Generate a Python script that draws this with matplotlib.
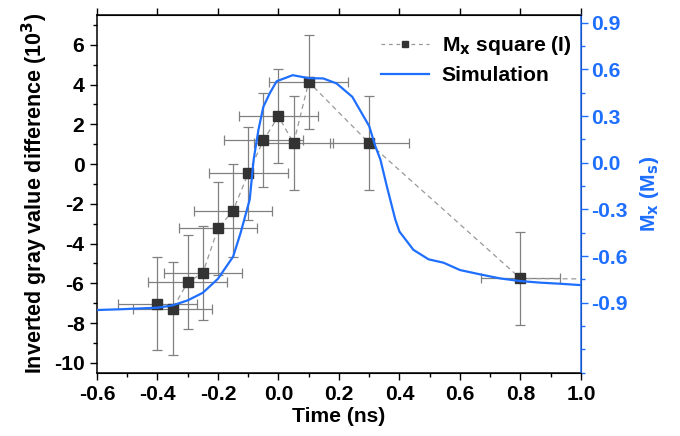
import numpy as np
import matplotlib.pyplot as plt
from matplotlib.ticker import MultipleLocator

plt.rcParams['font.family'] = ['Liberation Sans', 'DejaVu Sans']
plt.rcParams['font.weight'] = 'bold'
plt.rcParams['mathtext.default'] = 'bf'

# measured points (time in ns, gray value difference in 10^3)
t_exp = [-0.4, -0.35, -0.3, -0.25, -0.2, -0.15, -0.1, -0.05, 0.0, 0.05, 0.1, 0.3, 0.8, 1.2]
g_exp = [-7.03, -7.28, -5.95, -5.48, -3.24, -2.34, -0.47, 1.19, 2.41, 1.04, 4.13, 1.05, -5.76, -5.80]
g_err = [2.35, 2.35, 2.37, 2.37, 2.36, 2.34, 2.34, 2.36, 2.36, 2.36, 2.35, 2.36, 2.36, 2.36]
t_err = [0.13] * len(t_exp)

# simulated Mx (units of Ms)
t_sim = [-0.6, -0.52, -0.4, -0.35, -0.3, -0.25, -0.2, -0.15, -0.125, -0.104, -0.095,
         -0.082, -0.066, -0.05, -0.028, -0.006, 0.047, 0.1, 0.148, 0.192, 0.244, 0.3,
         0.32, 0.337, 0.358, 0.386, 0.4, 0.446, 0.496, 0.546, 0.6, 0.667, 0.733, 0.8,
         0.865, 0.931, 1.0]
m_sim = [-0.947, -0.942, -0.932, -0.917, -0.885, -0.836, -0.746, -0.604, -0.45, -0.30, -0.236,
         0.021, 0.214, 0.36, 0.45, 0.524, 0.563, 0.544, 0.542, 0.51, 0.424, 0.235,
         0.107, 0.02, -0.15, -0.364, -0.443, -0.56, -0.621, -0.643, -0.69, -0.718, -0.744, -0.761,
         -0.771, -0.778, -0.787]

blue = '#1F6FFF'
fs = 15.2

fig = plt.figure(figsize=(6.8, 4.36), dpi=100)
ax = fig.add_axes([0.1426, 0.1452, 0.7118, 0.8204])
ax2 = ax.twinx()

ax.errorbar(t_exp, g_exp, yerr=g_err, xerr=t_err, fmt='none', ecolor='#808080',
            elinewidth=0.9, capsize=3.5, capthick=0.9, zorder=2)
ax.plot(t_exp, g_exp, ls=(0, (4, 3)), color='#999999', lw=0.9, marker='s', ms=6.5,
        mfc='#333333', mec='#333333', zorder=3)
ax2.plot(t_sim, m_sim, color=blue, lw=1.6, zorder=4)

ax.set_xlim(-0.6, 1.0)
ax.set_ylim(-10.5, 7.5)
ax2.set_ylim(-1.35, 0.95)

ax.xaxis.set_minor_locator(MultipleLocator(0.1))
ax.yaxis.set_minor_locator(MultipleLocator(1))
ax2.yaxis.set_minor_locator(MultipleLocator(0.15))
ax.set_xticks([-0.6, -0.4, -0.2, 0.0, 0.2, 0.4, 0.6, 0.8, 1.0])
ax.set_xticklabels(['-0.6', '-0.4', '-0.2', '0.0', '0.2', '0.4', '0.6', '0.8', '1.0'])
ax.set_yticks([-10, -8, -6, -4, -2, 0, 2, 4, 6])
ax.set_yticklabels(['-10', '-8', '-6', '-4', '-2', '0', '2', '4', '6'])
ax2.set_yticks([-0.9, -0.6, -0.3, 0.0, 0.3, 0.6, 0.9])
ax2.set_yticklabels(['-0.9', '-0.6', '-0.3', '0.0', '0.3', '0.6', '0.9'])

ax.tick_params(axis='both', which='major', direction='out', length=5, width=1,
               labelsize=fs, pad=4)
ax.tick_params(axis='both', which='minor', direction='out', length=3, width=1)
ax.tick_params(axis='x', top=True, which='major')
ax2.tick_params(axis='y', which='major', direction='out', length=5, width=1,
                colors=blue, labelsize=fs, pad=2)
ax2.tick_params(axis='y', which='minor', direction='out', length=3, width=1, colors=blue)
for s in ['left', 'bottom', 'top']:
    ax.spines[s].set_linewidth(1.1)
ax2.spines['right'].set_color(blue)
ax2.spines['right'].set_linewidth(1.1)
ax2.spines['left'].set_visible(False)

ax.set_xlabel('Time (ns)', fontsize=fs, fontweight='bold', labelpad=2)
ax.set_ylabel('Inverted gray value difference (10$^3$)', fontsize=15.5, fontweight='bold', labelpad=3)
ax2.set_ylabel('M$_x$ (M$_s$)', fontsize=fs, fontweight='bold', color=blue, labelpad=8)

h1, = ax.plot([], [], ls=(0, (3, 3)), color='#999999', lw=0.9, marker='s', ms=5,
              mfc='#333333', mec='#333333')
h2, = ax.plot([], [], color=blue, lw=1.6)
ax.legend([h1, h2], ['M$_x$ square (I)', 'Simulation'], loc='upper right',
          bbox_to_anchor=(1.02, 1.0), frameon=False,
          handlelength=2.3, handletextpad=0.6, labelspacing=0.45,
          prop={'weight': 'bold', 'size': fs})

fig.savefig('out.png', dpi=100)
